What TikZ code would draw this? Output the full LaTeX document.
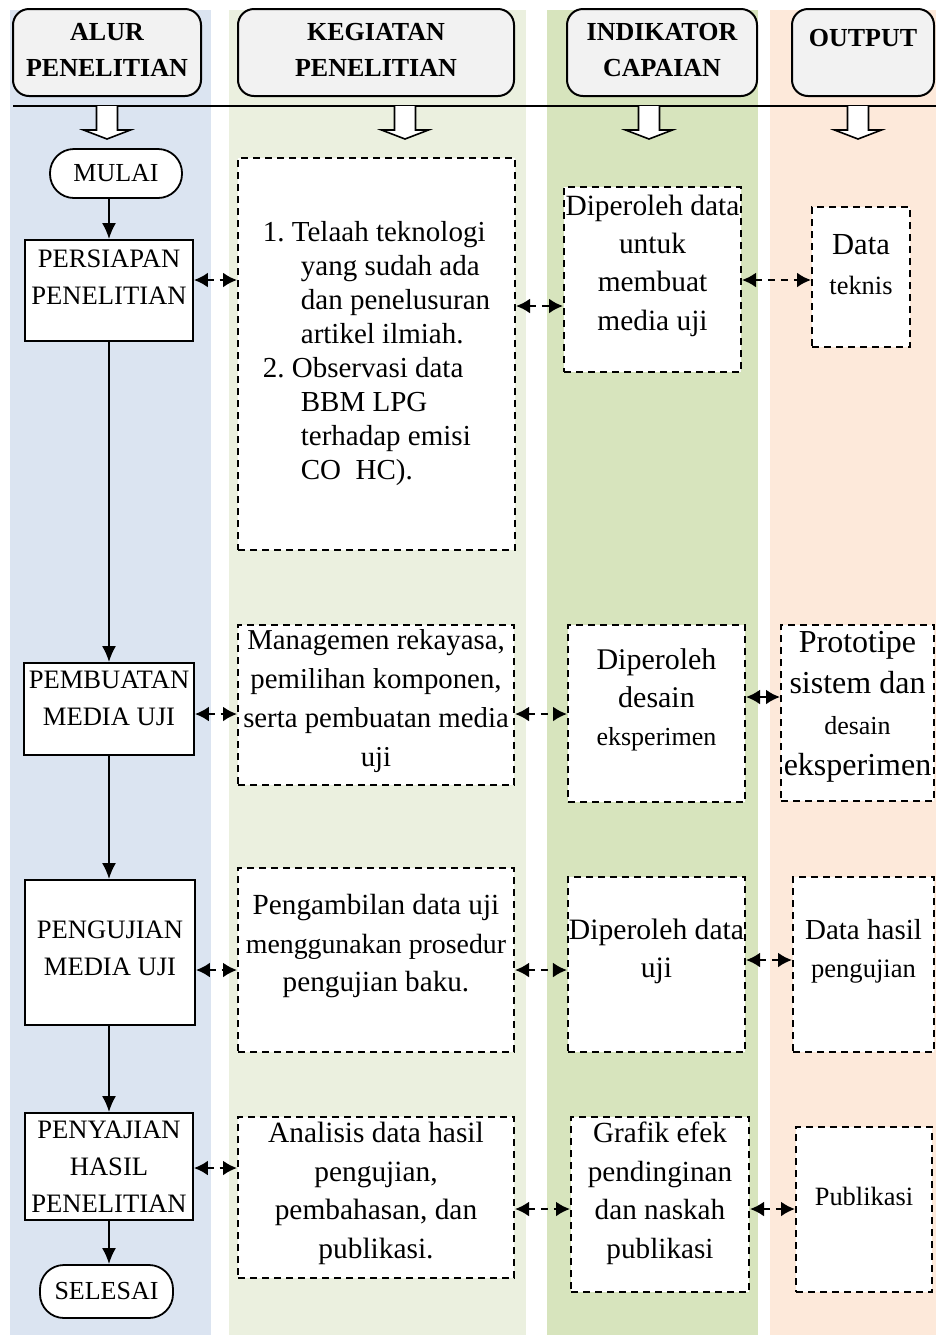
\documentclass[tikz,border=0pt]{standalone}
\usepackage{fontspec}
\setmainfont{Liberation Serif}
\usetikzlibrary{
    arrows.meta,   % For arrow tips
    positioning,   % For relative placement
}

\definecolor{colAlur}{HTML}{DBE4F1}
\definecolor{colKeg}{HTML}{EBF0DF}
\definecolor{colInd}{HTML}{D7E4BD}
\definecolor{colOut}{HTML}{FDE9DA}
\definecolor{colHead}{HTML}{F2F2F2}

\newcommand{\fsz}[2]{\fontsize{#1}{#2}\selectfont}
\frenchspacing

\begin{document}
\begin{tikzpicture}[
    x=0.5pt, y=-0.5pt, % one unit = one pixel of the sketch
    >=Latex,
    header/.style={draw, line width=1pt, rounded corners=8pt, fill=colHead,
        align=center, minimum height=43.5pt, inner sep=1pt,
        font=\bfseries\fsz{13}{18}},
    stepbox/.style={draw, line width=0.9pt, fill=white, align=center,
        inner sep=1pt, font=\fsz{13.3}{18.5}},
    terminal/.style={draw, line width=0.9pt, fill=white, rounded corners=12pt,
        inner sep=1pt, font=\fsz{13}{16}},
    dashbox/.style={draw, line width=1pt, dash pattern=on 3.5pt off 2.5pt,
        fill=white, align=center, inner xsep=0.5pt, inner ysep=1pt,
        font=\fsz{14.6}{19.2}},
    flow/.style={-{Latex[length=8pt,width=7pt]}, line width=1pt},
    link/.style={{Latex[length=7pt,width=7.5pt]}-{Latex[length=7pt,width=7.5pt]},
        line width=1.2pt, dash pattern=on 3.5pt off 3pt},
    blockarrow/.style={draw, line width=0.8pt, fill=white},
    lift/.style={text depth=#1}, % pushes the text up inside its box
]
    \useasboundingbox (0,0) rectangle (936,1335);

    % Column backgrounds
    \fill[colAlur] (10,10) rectangle (211,1335);
    \fill[colKeg]  (229,10) rectangle (526,1335);
    \fill[colInd]  (547,10) rectangle (758,1335);
    \fill[colOut]  (770,10) rectangle (936,1335);

    % Column headers
    \node[header, minimum width=94pt, lift=2.5pt] (hAlur) at (107,52.5) {ALUR\\PENELITIAN};
    \node[header, minimum width=138pt, lift=2.5pt] (hKeg) at (376,52.5) {KEGIATAN\\PENELITIAN};
    \node[header, minimum width=95pt, lift=2.5pt] (hInd) at (662,52.5) {INDIKATOR\\CAPAIAN};
    \node[header, minimum width=71pt, lift=14.5pt] (hOut) at (863,52.5) {OUTPUT};

    % Rule under the headers and hollow arrows
    \draw[line width=0.8pt] (13,106) -- (936,106);
    \foreach \cx in {107,405,649,858}
        \draw[blockarrow] (\cx-10.5,106) -- (\cx-10.5,130) -- (\cx-23.5,130)
            -- (\cx,139) -- (\cx+23.5,130) -- (\cx+10.5,130) -- (\cx+10.5,106);

    % Alur penelitian
    \node[terminal, minimum width=66pt, minimum height=24.5pt] (mulai) at (116,173.5) {MULAI};
    \node[stepbox, minimum width=84pt, minimum height=50.5pt, lift=13pt] (persiapan) at (109,290.5) {PERSIAPAN\\PENELITIAN};
    \node[stepbox, minimum width=85pt, minimum height=46pt, lift=10.5pt] (pembuatan) at (109,709) {PEMBUATAN\\MEDIA UJI};
    \node[stepbox, minimum width=85pt, minimum height=72.5pt, lift=4.5pt] (pengujian) at (110,952.5) {PENGUJIAN\\MEDIA UJI};
    \node[stepbox, minimum width=84pt, minimum height=53.5pt] (penyajian) at (109,1166.5) {PENYAJIAN\\HASIL\\PENELITIAN};
    \node[terminal, minimum width=66.5pt, minimum height=26.5pt] (selesai) at (106.5,1291.5) {SELESAI};

    \draw[flow] (mulai.south -| persiapan.north) -- (persiapan.north);
    \draw[flow] (persiapan.south) -- (pembuatan.north);
    \draw[flow] (pembuatan.south) -- (pembuatan.south |- pengujian.north);
    \draw[flow] (pengujian.south -| penyajian.north) -- (penyajian.north);
    \draw[flow] (penyajian.south) -- (penyajian.south |- selesai.north);

    % Kegiatan penelitian
    \node[dashbox, align=left, font=\fsz{14.5}{17}, minimum width=138.5pt, minimum height=196pt] (k1) at (376.5,354)
        {1. Telaah teknologi\\
         \hspace*{19pt}yang sudah ada\\
         \hspace*{19pt}dan penelusuran\\
         \hspace*{19pt}artikel ilmiah.\\
         2. Observasi data\\
         \hspace*{19pt}BBM LPG\\
         \hspace*{19pt}terhadap emisi\\
         \hspace*{19pt}CO\ \ HC).};
    \node[dashbox, font=\fsz{14.4}{19.5}, minimum width=138pt, minimum height=80pt, lift=6.7pt] (k2) at (376,705)
        {Managemen rekayasa,\\pemilihan komponen,\\serta pembuatan media\\uji};
    \node[dashbox, font=\fsz{14.6}{19.25}, minimum width=138pt, minimum height=92pt, lift=16.7pt] (k3) at (376,960)
        {Pengambilan data uji\\{\fsz{13.9}{19.25}menggunakan prosedur}\\pengujian baku.};
    \node[dashbox, font=\fsz{14.7}{19.25}, minimum width=138pt, minimum height=80.5pt, lift=7.2pt] (k4) at (376,1197.5)
        {Analisis data hasil\\pengujian,\\pembahasan, dan\\publikasi.};

    % Indikator capaian
    \node[dashbox, font=\fsz{14.7}{19.2}, minimum width=88.5pt, minimum height=92.5pt, lift=17pt] (i1) at (652.5,279.5)
        {Diperoleh data\\untuk\\membuat\\media uji};
    \node[dashbox, font=\fsz{15}{19}, minimum width=88.5pt, minimum height=88.5pt, lift=16pt] (i2) at (656.5,713.5)
        {Diperoleh\\desain\\{\fsz{13}{19}eksperimen}};
    \node[dashbox, font=\fsz{14.8}{19}, minimum width=88.5pt, minimum height=87.5pt, lift=16.7pt] (i3) at (656.5,964.5)
        {Diperoleh data\\uji};
    \node[dashbox, font=\fsz{14.6}{19.25}, minimum width=89pt, minimum height=87.5pt, lift=14.2pt] (i4) at (660,1204.5)
        {Grafik efek\\pendinginan\\dan naskah\\publikasi};

    % Output
    \node[dashbox, font=\fsz{15.3}{20}, minimum width=49pt, minimum height=70pt, lift=13pt] (o1) at (861,277)
        {Data\\{\fsz{13.2}{20}teknis}};
    \node[dashbox, font=\fsz{16}{20.5}, minimum width=76.5pt, minimum height=88pt, lift=10pt] (o2) at (857.5,713)
        {Prototipe\\sistem dan\\{\fsz{13}{20.5}desain}\\eksperimen};
    \node[dashbox, font=\fsz{14.5}{19}, minimum width=70.5pt, minimum height=87.5pt, lift=16.4pt] (o3) at (863.5,964.5)
        {Data hasil\\{\fsz{13.3}{19}pengujian}};
    \node[dashbox, font=\fsz{13.2}{17}, minimum width=68pt, minimum height=82.5pt, lift=13.5pt] (o4) at (864,1209.5)
        {Publikasi};

    % Links between the columns
    \draw[link] (persiapan.east |- 0,280) -- (k1.west |- 0,280);
    \draw[link] (k1.east |- 0,306) -- (i1.west |- 0,306);
    \draw[link] (i1.east |- 0,280) -- (o1.west |- 0,280);

    \draw[link] (pembuatan.east |- 0,714) -- (k2.west |- 0,714);
    \draw[link] (k2.east |- 0,714) -- (i2.west |- 0,714);
    \draw[link] (i2.east |- 0,697) -- (o2.west |- 0,697);

    \draw[link] (pengujian.east |- 0,970) -- (k3.west |- 0,970);
    \draw[link] (k3.east |- 0,970) -- (i3.west |- 0,970);
    \draw[link] (i3.east |- 0,960) -- (o3.west |- 0,960);

    \draw[link] (penyajian.east |- 0,1168) -- (k4.west |- 0,1168);
    \draw[link] (k4.east |- 0,1209) -- (i4.west |- 0,1209);
    \draw[link] (i4.east |- 0,1209) -- (o4.west |- 0,1209);

\end{tikzpicture}
\end{document}
